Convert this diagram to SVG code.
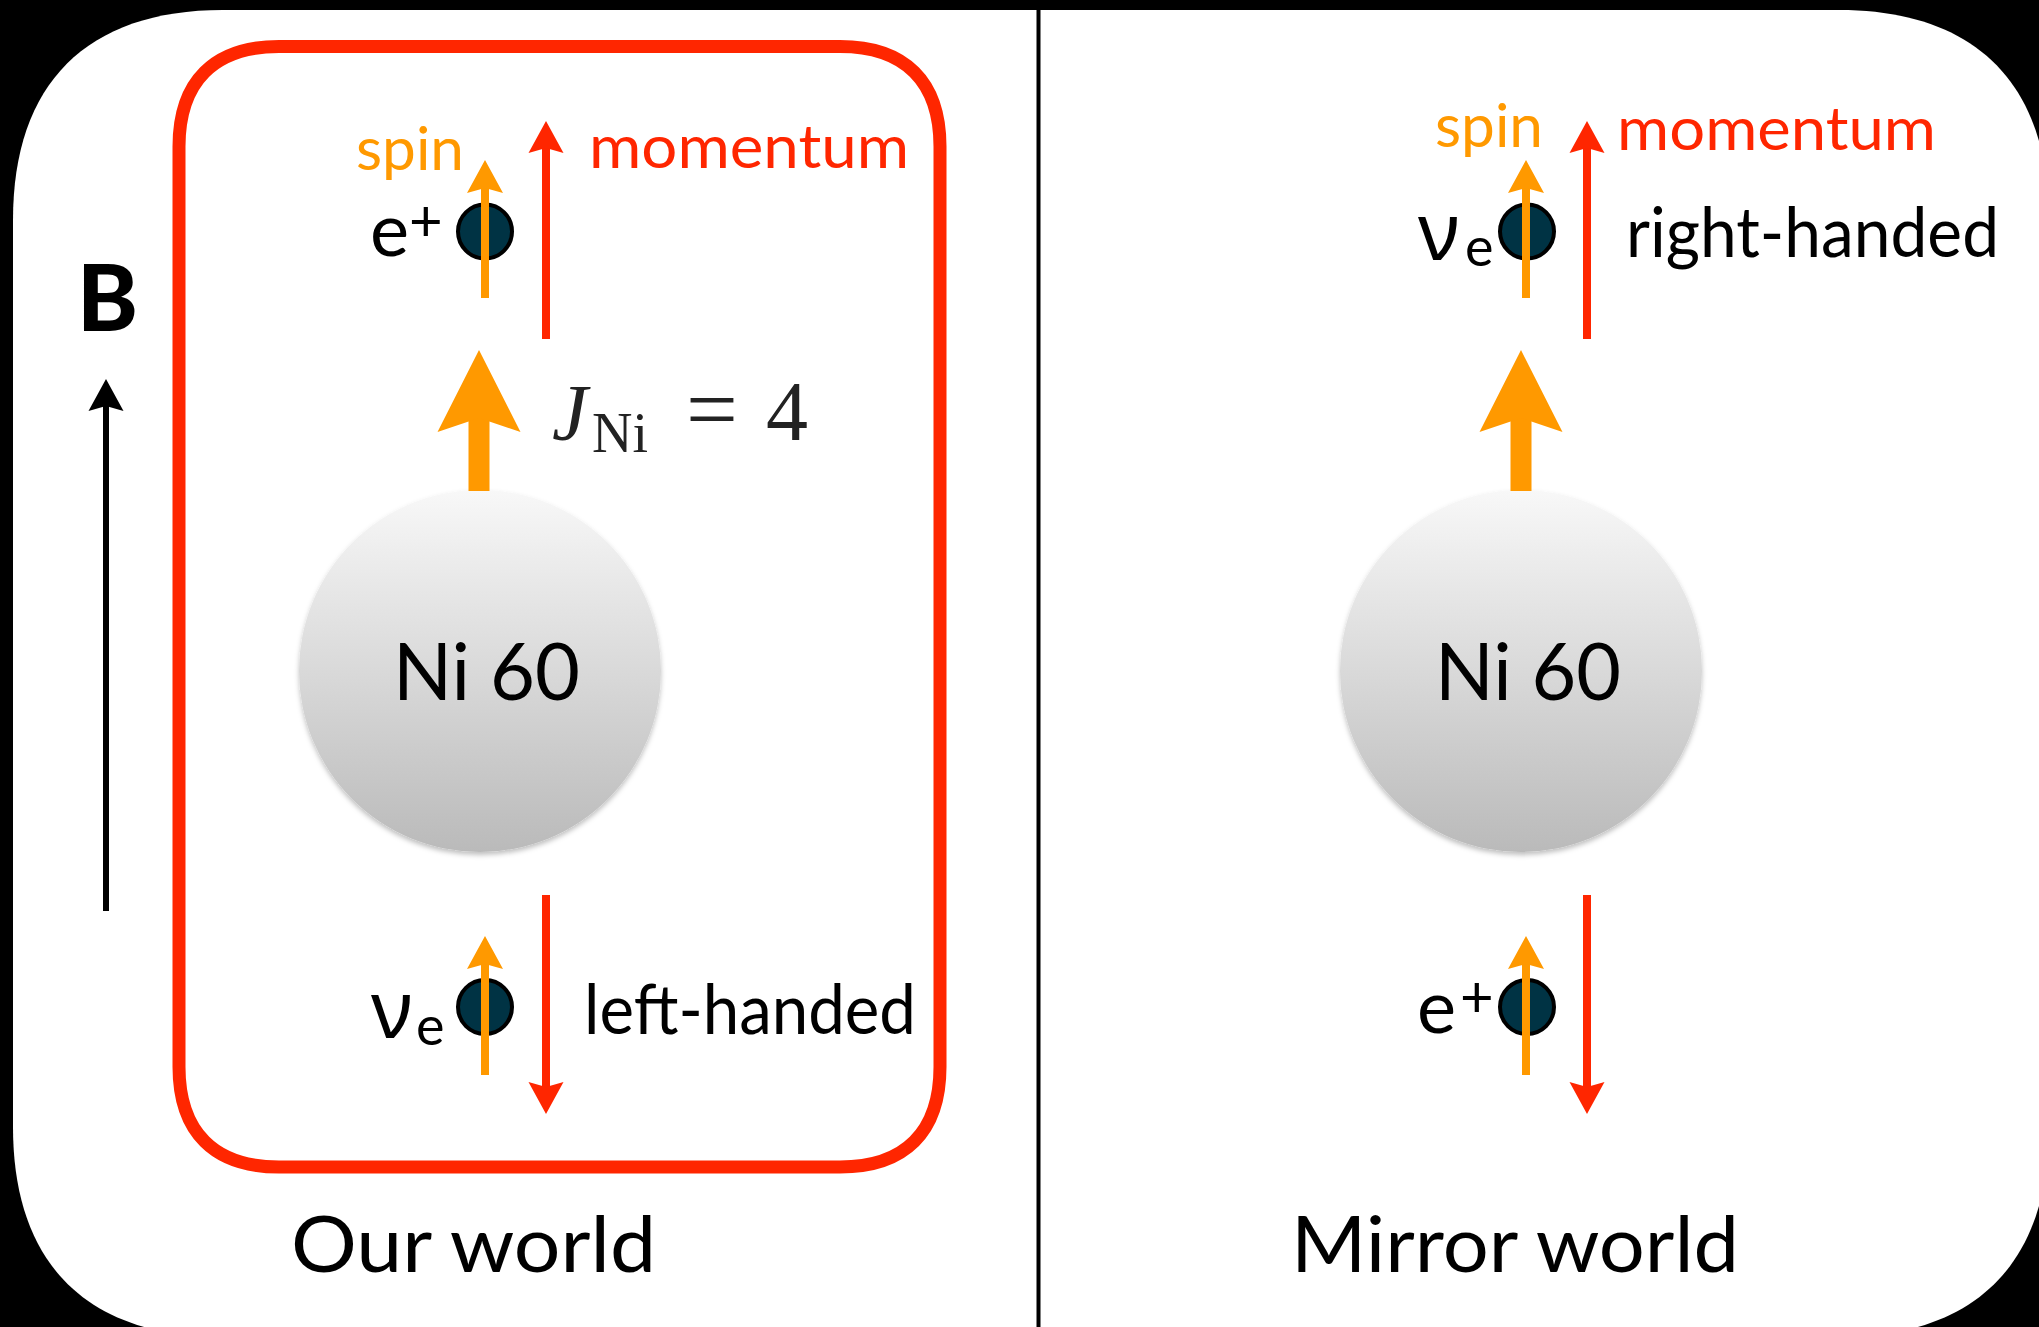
<svg xmlns="http://www.w3.org/2000/svg" width="2039" height="1327" viewBox="0 0 2039 1327">
<style>
.t{font-family:Lato,"Open Sans","Liberation Sans",sans-serif;fill:#000}
.spin{fill:#FF9900;font-size:60px}
.mom{fill:#FF2600;font-size:60px}
.lbl{font-size:70px}
.big{font-size:78px}
.ni{font-size:80px}
.ep{font-size:74px}
.sup{font-size:58px}
.sub{font-size:54px}
.nu{font-family:"Noto Sans","Open Sans","DejaVu Sans",sans-serif;font-size:80px}
.math{font-family:"Liberation Serif","DejaVu Serif",serif;fill:#222;font-size:80px}
.ls{stroke:#FF9900;stroke-width:8;fill:none}
.lm{stroke:#FF2600;stroke-width:8;fill:none}
.lbig{stroke:#FF9900;stroke-width:21;fill:none}
.lk{stroke:#000;stroke-width:6;fill:none}
.particle{fill:#003344;stroke:#000;stroke-width:4}
.sphere{fill:url(#sg);filter:url(#sh)}
</style>
<defs>
<linearGradient id="sg" x1="0" y1="0" x2="0" y2="1">
<stop offset="0" stop-color="#f8f8f8"/>
<stop offset="1" stop-color="#bababa"/>
</linearGradient>
<filter id="sh" x="-20%" y="-20%" width="140%" height="140%">
<feDropShadow dx="0" dy="3" stdDeviation="2.5" flood-color="#000" flood-opacity="0.25"/>
</filter>
<marker id="hs" markerUnits="userSpaceOnUse" orient="auto" overflow="visible" refX="0" refY="0" markerWidth="40" markerHeight="40">
<path d="M-5,-18 L28,0 L-5,18 L0,0 Z" fill="#FF9900"/>
</marker>
<marker id="hm" markerUnits="userSpaceOnUse" orient="auto" overflow="visible" refX="0" refY="0" markerWidth="40" markerHeight="40">
<path d="M-5,-17.5 L27,0 L-5,17.5 L0,0 Z" fill="#FF2600"/>
</marker>
<marker id="hb" markerUnits="userSpaceOnUse" orient="auto" overflow="visible" refX="0" refY="0" markerWidth="100" markerHeight="100">
<path d="M-14,-41.5 L68,0 L-14,41.5 L0,0 Z" fill="#FF9900"/>
</marker>
<marker id="hk" markerUnits="userSpaceOnUse" orient="auto" overflow="visible" refX="0" refY="0" markerWidth="40" markerHeight="40">
<path d="M-5,-17.5 L27,0 L-5,17.5 L0,0 Z" fill="#000"/>
</marker>
</defs>

<rect x="0" y="0" width="2039" height="1327" fill="#000"/>
<path id="frame" d="M223,10 H1839 C1975.5,10 2049,83.5 2049,220 V1127 C2049,1263.5 1975.5,1337 1839,1337 H223 C86.5,1337 13,1263.5 13,1127 V220 C13,83.5 86.5,10 223,10 Z" fill="#fff"/>
<line id="divider" x1="1038.5" y1="0" x2="1038.5" y2="1327" stroke="#000" stroke-width="4"/>

<g id="our-world-box">
<path d="M279,46.5 H840 C905,46.5 940,81.5 940,146.5 V1067 C940,1132 905,1167 840,1167 H279 C214,1167 179,1132 179,1067 V146.5 C179,81.5 214,46.5 279,46.5 Z" fill="none" stroke="#FF2600" stroke-width="13"/>
</g>

<g id="b-field">
<text class="t" x="77" y="331" font-size="92" font-weight="900">B</text>
</g>

<g id="ni60-left">
<circle class="sphere" cx="480" cy="671" r="181"/>
<text class="t ni" x="393" y="700" textLength="187" lengthAdjust="spacingAndGlyphs">Ni 60</text>
</g>
<g id="ni60-right">
<circle class="sphere" cx="1521" cy="671" r="181"/>
<text class="t ni" x="1435" y="700" textLength="186" lengthAdjust="spacingAndGlyphs">Ni 60</text>
</g>

<g id="positron-left">
<ellipse class="particle" cx="485" cy="231.5" rx="27" ry="27"/>
<text class="t"><tspan class="ep" x="370" y="256">e</tspan><tspan class="sup" x="409" y="241">+</tspan></text>
</g>
<g id="neutrino-left">
<ellipse class="particle" cx="485" cy="1007" rx="27" ry="27"/>
<text class="t"><tspan class="nu" x="371" y="1038">ν</tspan><tspan class="sub" x="416" y="1045">e</tspan></text>
</g>
<g id="neutrino-right">
<ellipse class="particle" cx="1527" cy="231.5" rx="27" ry="27"/>
<text class="t"><tspan class="nu" x="1418" y="260">ν</tspan><tspan class="sub" x="1465" y="266">e</tspan></text>
</g>
<g id="positron-right">
<ellipse class="particle" cx="1527" cy="1007" rx="27" ry="27"/>
<text class="t"><tspan class="ep" x="1417" y="1033">e</tspan><tspan class="sup" x="1460" y="1017">+</tspan></text>
</g>

<g id="connectors">
<line class="lk" x1="106" y1="911" x2="106" y2="406" marker-end="url(#hk)"/>
<line class="lbig" x1="479" y1="491" x2="479" y2="418" marker-end="url(#hb)"/>
<line class="lbig" x1="1521" y1="491" x2="1521" y2="418" marker-end="url(#hb)"/>
<line class="ls" x1="485" y1="298" x2="485" y2="188" marker-end="url(#hs)"/>
<line class="lm" x1="546" y1="339" x2="546" y2="148" marker-end="url(#hm)"/>
<line class="ls" x1="485" y1="1075" x2="485" y2="964" marker-end="url(#hs)"/>
<line class="lm" x1="546" y1="895" x2="546" y2="1087" marker-end="url(#hm)"/>
<line class="ls" x1="1526" y1="298" x2="1526" y2="188" marker-end="url(#hs)"/>
<line class="lm" x1="1587" y1="339" x2="1587" y2="148" marker-end="url(#hm)"/>
<line class="ls" x1="1526" y1="1075" x2="1526" y2="964" marker-end="url(#hs)"/>
<line class="lm" x1="1587" y1="895" x2="1587" y2="1087" marker-end="url(#hm)"/>
</g>

<g id="labels">
<text class="t spin" x="356" y="170" textLength="108" lengthAdjust="spacingAndGlyphs">spin</text>
<text class="t mom" x="589" y="168" textLength="320" lengthAdjust="spacingAndGlyphs">momentum</text>
<text class="t spin" x="1435" y="147" textLength="108" lengthAdjust="spacingAndGlyphs">spin</text>
<text class="t mom" x="1617" y="150" textLength="319" lengthAdjust="spacingAndGlyphs">momentum</text>
<text class="math"><tspan x="552" y="440" font-style="italic">J</tspan><tspan x="592" y="452" font-size="56">Ni</tspan><tspan x="686" y="440" font-size="92">=</tspan><tspan x="766" y="440" font-size="84">4</tspan></text>
<text class="t lbl" x="584" y="1034" textLength="332" lengthAdjust="spacingAndGlyphs">left-handed</text>
<text class="t lbl" x="1626" y="257" textLength="373" lengthAdjust="spacingAndGlyphs">right-handed</text>
<text class="t big" x="291" y="1272" textLength="365" lengthAdjust="spacingAndGlyphs">Our world</text>
<text class="t big" x="1291" y="1272" textLength="448" lengthAdjust="spacingAndGlyphs">Mirror world</text>
</g>
</svg>
